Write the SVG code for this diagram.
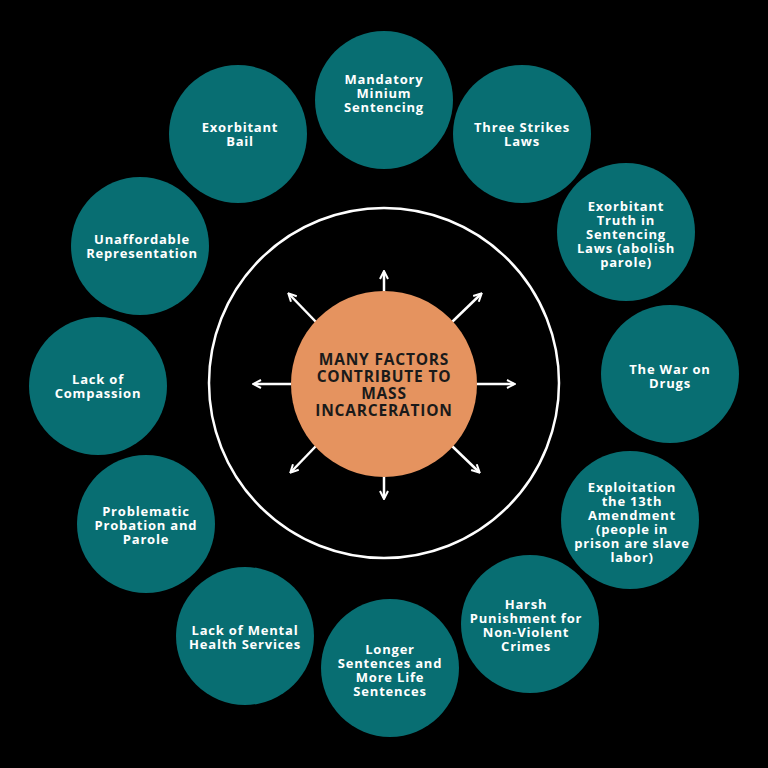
<svg xmlns="http://www.w3.org/2000/svg" width="768" height="768" viewBox="0 0 768 768">
<style>
.n{fill:#086e72}
.t{fill:#fff;font-family:"Open Sans","Liberation Sans",sans-serif;font-weight:700;font-size:13px;letter-spacing:0.8px;text-anchor:middle}
.c{fill:#1a1a1a;font-family:"Open Sans","Liberation Sans",sans-serif;font-weight:700;font-size:15.5px;letter-spacing:0.8px;text-anchor:middle}
.a{stroke:#fff;stroke-width:2.5;fill:none;marker-end:url(#h)}
</style>
<defs><marker id="h" viewBox="0 0 10 10" refX="8" refY="5" markerWidth="4" markerHeight="4" orient="auto"><path d="M1,1L9,5L1,9" fill="none" stroke="#fff" stroke-width="2"/></marker></defs>
<rect width="768" height="768" fill="#000"/>
<circle cx="384" cy="383" r="175" fill="none" stroke="#fff" stroke-width="2.5"/>
<g id="connectors">
<line class="a" x1="384" y1="292" x2="384" y2="272"/>
<line class="a" x1="384" y1="476" x2="384" y2="498"/>
<line class="a" x1="477" y1="384" x2="514" y2="384"/>
<line class="a" x1="291" y1="384" x2="254" y2="384"/>
<line class="a" x1="452" y1="322" x2="481" y2="294"/>
<line class="a" x1="316" y1="322" x2="289" y2="294"/>
<line class="a" x1="452" y1="446" x2="479" y2="472"/>
<line class="a" x1="316" y1="446" x2="291" y2="472"/>
</g>
<g id="center"><circle cx="384" cy="384" r="93" fill="#e5935f"/>
<text class="c" x="384" y="365">MANY FACTORS</text><text class="c" x="384" y="382">CONTRIBUTE TO</text><text class="c" x="384" y="399">MASS</text><text class="c" x="384" y="416">INCARCERATION</text></g>
<g id="n1"><circle class="n" cx="384" cy="100" r="69"/><text class="t" x="384" y="84">Mandatory</text><text class="t" x="384" y="98">Minium</text><text class="t" x="384" y="112">Sentencing</text></g>
<g id="n2"><circle class="n" cx="522" cy="134" r="69"/><text class="t" x="522" y="132">Three Strikes</text><text class="t" x="522" y="146">Laws</text></g>
<g id="n3"><circle class="n" cx="626" cy="232" r="69"/><text class="t" x="626" y="211">Exorbitant</text><text class="t" x="626" y="225">Truth in</text><text class="t" x="626" y="239">Sentencing</text><text class="t" x="626" y="253">Laws (abolish</text><text class="t" x="626" y="267">parole)</text></g>
<g id="n4"><circle class="n" cx="670" cy="374" r="69"/><text class="t" x="670" y="374">The War on</text><text class="t" x="670" y="388">Drugs</text></g>
<g id="n5"><circle class="n" cx="630" cy="520" r="69"/><text class="t" x="632" y="492">Exploitation</text><text class="t" x="632" y="506">the 13th</text><text class="t" x="632" y="520">Amendment</text><text class="t" x="632" y="534">(people in</text><text class="t" x="632" y="548">prison are slave</text><text class="t" x="632" y="562">labor)</text></g>
<g id="n6"><circle class="n" cx="530" cy="624" r="69"/><text class="t" x="526" y="609">Harsh</text><text class="t" x="526" y="623">Punishment for</text><text class="t" x="526" y="637">Non-Violent</text><text class="t" x="526" y="651">Crimes</text></g>
<g id="n7"><circle class="n" cx="390" cy="668" r="69"/><text class="t" x="390" y="654">Longer</text><text class="t" x="390" y="668">Sentences and</text><text class="t" x="390" y="682">More Life</text><text class="t" x="390" y="696">Sentences</text></g>
<g id="n8"><circle class="n" cx="245" cy="636" r="69"/><text class="t" x="245" y="635">Lack of Mental</text><text class="t" x="245" y="649">Health Services</text></g>
<g id="n9"><circle class="n" cx="146" cy="524" r="69"/><text class="t" x="146" y="516">Problematic</text><text class="t" x="146" y="530">Probation and</text><text class="t" x="146" y="544">Parole</text></g>
<g id="n10"><circle class="n" cx="98" cy="386" r="69"/><text class="t" x="98" y="384">Lack of</text><text class="t" x="98" y="398">Compassion</text></g>
<g id="n11"><circle class="n" cx="140" cy="246" r="69"/><text class="t" x="142" y="244">Unaffordable</text><text class="t" x="142" y="258">Representation</text></g>
<g id="n12"><circle class="n" cx="238" cy="134" r="69"/><text class="t" x="240" y="132">Exorbitant</text><text class="t" x="240" y="146">Bail</text></g>
</svg>
